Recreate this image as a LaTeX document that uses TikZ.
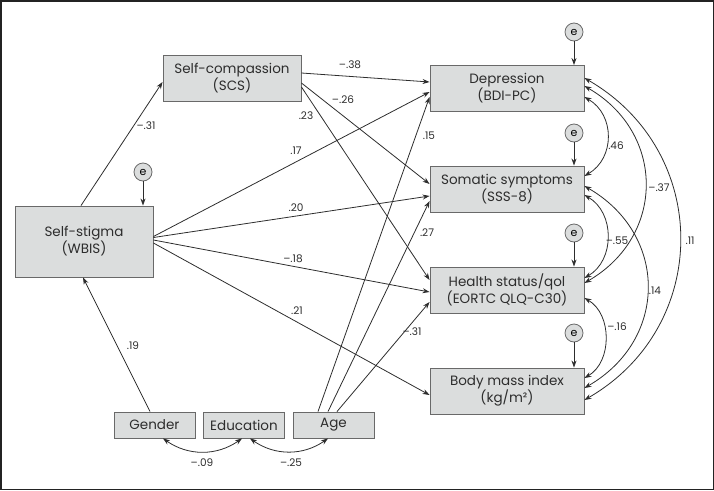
\documentclass[tikz,border=0pt]{standalone}
\usepackage{fontspec}
\setmainfont{Poppins}
\usetikzlibrary{arrows.meta}
\definecolor{boxfill}{RGB}{219,221,221}
\definecolor{boxline}{RGB}{105,105,105}
\definecolor{pathline}{RGB}{45,45,45}
\definecolor{frameline}{RGB}{35,35,35}

\begin{document}
\begin{tikzpicture}[x=1pt, y=-1pt,
    var/.style={draw=boxline, fill=boxfill, line width=0.9pt, inner sep=0pt,
      align=center, text=pathline, font=\fontsize{13.5}{17}\selectfont},
    outcome/.style={var, minimum width=154pt, minimum height=46pt},
    covar/.style={var, minimum width=81pt, minimum height=26pt},
    err/.style={circle, draw=boxline, fill=boxfill, line width=0.8pt,
      minimum size=18pt, inner sep=0pt, font=\fontsize{11}{11}\selectfont},
    coef/.style={inner sep=0pt, font=\fontsize{10.5}{12}\selectfont, text=pathline},
    reg/.style={draw=pathline, line width=0.8pt, -{Stealth[length=7pt, width=5pt]}},
    corr/.style={reg, {Stealth[length=7pt, width=5pt]}-{Stealth[length=7pt, width=5pt]}}
]
    \useasboundingbox (0,0) rectangle (714,490);
    \draw[frameline, line width=1.5pt] (0.75,0.75) rectangle (713.25,489.25);

    % predictors
    \node[var, minimum width=138pt, minimum height=71pt] (wbis) at (84,241.5) {Self-stigma\\(WBIS)};
    \node[var, minimum width=138pt, minimum height=46pt] (scs) at (232,78) {Self-compassion\\(SCS)};
    \node[covar] (gender) at (154.5,425) {Gender};
    \node[covar] (edu) at (244,425) {Education};
    \node[covar] (age) at (333.5,425) {Age};

    % outcomes
    \node[outcome] (bdi) at (507,88.5) {Depression\\(BDI-PC)};
    \node[outcome] (sss) at (507,189) {Somatic symptoms\\(SSS-8)};
    \node[outcome] (qol) at (507,290) {Health status/qol\\(EORTC QLQ-C30)};
    \node[outcome] (bmi) at (507,391) {Body mass index\\(kg/m²)};

    % residuals
    \node[err] (eW) at (143,172) {e};
    \node[err] (eD) at (574,32) {e};
    \node[err] (eS) at (574,133) {e};
    \node[err] (eH) at (574,233) {e};
    \node[err] (eB) at (574,333) {e};
    \draw[reg] (eW) -- (wbis.north -| eW);
    \draw[reg] (eD) -- (bdi.north -| eD);
    \draw[reg] (eS) -- (sss.north -| eS);
    \draw[reg] (eH) -- (qol.north -| eH);
    \draw[reg] (eB) -- (bmi.north -| eB);

    % paths
    \draw[reg] ([xshift=-3pt]wbis.north) -- ([yshift=-4pt]scs.west);
    \draw[reg] ([yshift=5pt]scs.east) -- ([yshift=6.5pt]bdi.west);
    \draw[reg] ([yshift=-5pt]scs.east) -- ([yshift=5pt]sss.west);
    \draw[reg] ([yshift=-9pt]scs.east) -- ([yshift=10pt]qol.west);
    \draw[reg] ([yshift=5pt]wbis.east) -- ([yshift=-3.5pt]bdi.west);
    \draw[reg] ([yshift=4pt]wbis.east) -- ([yshift=-7pt]sss.west);
    \draw[reg] ([yshift=1.5pt]wbis.east) -- ([yshift=-2pt]qol.west);
    \draw[reg] ([yshift=-1.5pt]wbis.east) -- ([yshift=-4pt]bmi.west);
    \draw[reg] ([xshift=-4.5pt]gender.north) -- ([xshift=-1pt]wbis.south);
    \draw[reg] ([xshift=-15.5pt]age.north) -- ([yshift=-8.5pt]bdi.west);
    \draw[reg] ([xshift=-5.5pt]age.north) -- ([yshift=-12pt]sss.west);
    \draw[reg] ([xshift=3.5pt]age.north) -- ([yshift=-12pt]qol.west);

    % covariances
    \draw[corr] ([yshift=-8.5pt]bdi.east) to[bend left=60, looseness=1.15] ([yshift=13pt]sss.east);
    \draw[corr] ([yshift=2.5pt]bdi.east) to[bend left=60, looseness=1.22] ([yshift=7pt]qol.east);
    \draw[corr] ([yshift=10.5pt]bdi.east) to[bend left=60, looseness=1.17] ([yshift=-9pt]bmi.east);
    \draw[corr] ([yshift=-6pt]sss.east) to[bend left=60, looseness=1.09] ([yshift=12pt]qol.east);
    \draw[corr] ([yshift=3pt]sss.east) to[bend left=60, looseness=1.23] ([yshift=3pt]bmi.east);
    \draw[corr] ([yshift=-8pt]qol.east) to[bend left=60, looseness=1.03] ([yshift=13pt]bmi.east);
    \draw[corr] ([xshift=8.5pt]gender.south) to[bend right=35] ([xshift=-2pt]edu.south);
    \draw[corr] ([xshift=6pt]edu.south) to[bend right=35] ([xshift=-5.5pt]age.south);

    % coefficients
    \foreach \v/\x/\y [count=\n] in {--.31/146/126, --.38/350/65, --.26/343/100,
        .23/306/116, .17/296/151, .20/296/208, --.18/293/259, .21/297/311,
        .19/133/346, --.09/202/463, --.25/291/463, .15/429/136, .27/427/233,
        --.31/412/332, .46/616/146, --.37/659/188, --.55/617/241, .11/690/241,
        .14/655/291, --.16/617/327} {
      \node[coef] (c\n) at (\x,\y) {\v};
    }
\end{tikzpicture}
\end{document}
